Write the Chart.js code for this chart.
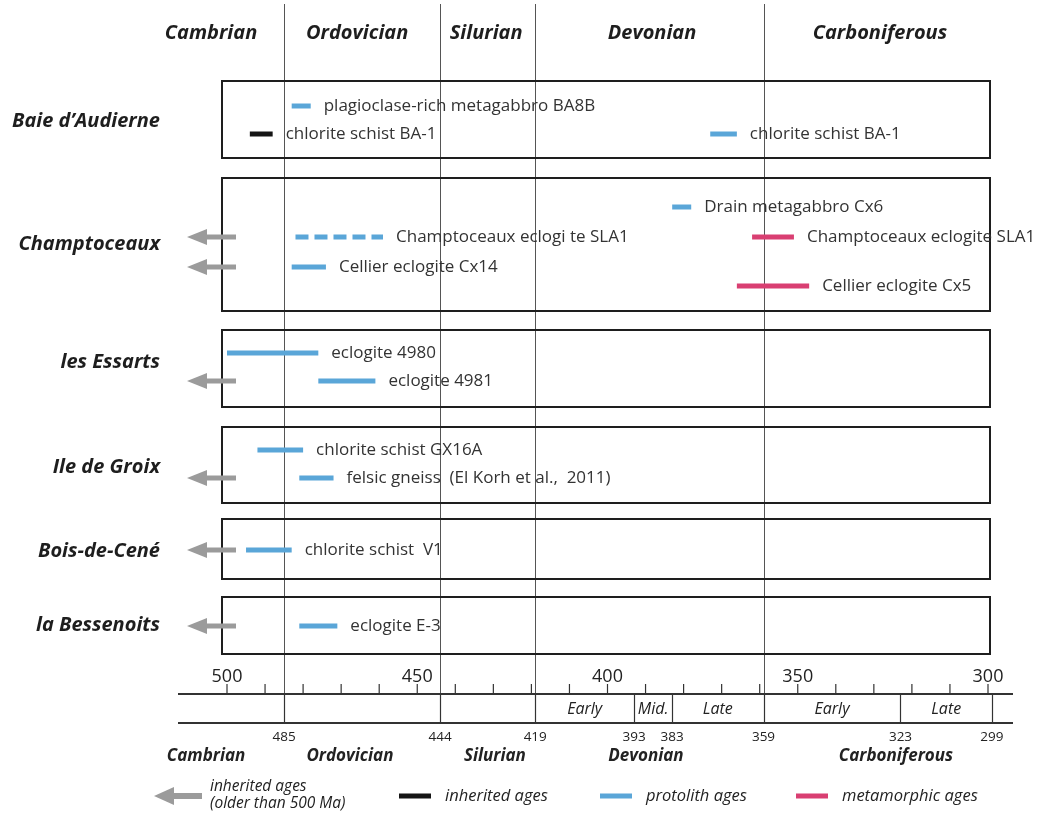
<!DOCTYPE html>
<html>
<head>
<meta charset="utf-8">
<script src="https://cdn.jsdelivr.net/npm/chart.js@4.4.1/dist/chart.umd.min.js"></script>
<style>
  html, body { margin: 0; background: #fff; }
  #wrap { width: 1046px; height: 817px; }
</style>
</head>
<body>
<div id="wrap"><canvas id="chart"></canvas></div>
<script>
// ---- data (ages in Ma) ----
const sites = ["Baie d\u2019Audierne", "Champtoceaux", "les Essarts", "Ile de Groix", "Bois-de-Cen\u00e9", "la Bessenoits"];
const sampleNames = ["plagioclase-rich metagabbro BA8B", "chlorite schist BA-1", "chlorite schist BA-1",
  "Drain metagabbro Cx6", "Champtoceaux eclogi te SLA1", "Champtoceaux eclogite SLA1",
  "Cellier eclogite Cx14", "Cellier eclogite Cx5", "eclogite 4980", "eclogite 4981",
  "chlorite schist GX16A", "felsic gneiss  (El Korh et al.,  2011)", "chlorite schist  V1", "eclogite E-3"];
const sampleSite = [0, 0, 0, 1, 1, 1, 1, 1, 2, 2, 3, 3, 4, 5];
const ageOld   = [483, 494, 373, 383, 482, 362, 483, 366, 500, 476, 492, 481, 495, 481];
const ageYoung = [478, 488, 366, 378, 459, 351, 474, 347, 476, 461, 480, 472, 483, 471];
const ageKind  = ["protolith", "inherited", "protolith", "protolith", "protolith", "metamorphic",
  "protolith", "metamorphic", "protolith", "protolith", "protolith", "protolith", "protolith", "protolith"];
const uncertain = [0, 0, 0, 0, 1, 0, 0, 0, 0, 0, 0, 0, 0, 0];
const olderThan500 = [0, 0, 0, 0, 1, 0, 1, 0, 0, 1, 0, 1, 1, 1];

const periods = ["Cambrian", "Ordovician", "Silurian", "Devonian", "Carboniferous"];
const periodLines = [485, 444, 419, 359];
const stageBounds = [485, 444, 419, 393, 383, 359, 323, 299];
const epochs = ["Early", "Mid.", "Late", "Early", "Late"];
const epochStart = [419, 393, 383, 359, 323];
const epochEnd = [393, 383, 359, 323, 299];
const tickLabels = [500, 450, 400, 350, 300];

// ---- layout (vertical slots, label anchors) ----
const siteTop = [81, 178, 330, 427, 519, 597];
const siteBottom = [158, 311, 407, 503, 579, 654];
const siteLabelY = [121, 244, 362, 467, 551, 625];
const rowY = [106, 134, 134, 207, 237, 237, 267, 286, 353, 381, 450, 478, 550, 626];
const topLabelAge = [504.2, 465.8, 431.9, 388.3, 328.4];
const bottomLabelAge = [505.5, 467.7, 429.6, 389.9, 324.2];

const kindColor = { inherited: "#151515", protolith: "#5aa6d8", metamorphic: "#d93f72" };
const arrowGrey = "#9b9b9b";
const ink = "#1e1e1e";
const font = "'Open Sans', 'Liberation Sans', sans-serif";

const datasets = sampleNames.map((name, i) => ({
  label: name,
  data: [{ x: ageOld[i], y: rowY[i] }, { x: ageYoung[i], y: rowY[i] }],
  borderColor: kindColor[ageKind[i]],
  borderWidth: 5,
  borderDash: uncertain[i] ? [13, 6] : [],
  borderCapStyle: "butt",
  pointRadius: 0,
  fill: false
}));

function arrow(ctx, tipX, tailX, y, head, halfH, shaft) {
  ctx.fillStyle = arrowGrey;
  ctx.fillRect(tipX + head - 1, y - shaft / 2, tailX - tipX - head + 1, shaft);
  ctx.beginPath();
  ctx.moveTo(tipX, y);
  ctx.lineTo(tipX + head, y - halfH);
  ctx.lineTo(tipX + head, y + halfH);
  ctx.closePath();
  ctx.fill();
}

const figure = {
  id: "figure",
  beforeDatasetsDraw(chart) {
    const { ctx, scales: { x, y } } = chart;
    ctx.save();
    // period boundaries through the panels
    ctx.strokeStyle = "#555";
    ctx.lineWidth = 1;
    periodLines.forEach(a => {
      const px = Math.round(x.getPixelForValue(a)) + 0.5;
      ctx.beginPath();
      ctx.moveTo(px, y.getPixelForValue(4));
      ctx.lineTo(px, y.getPixelForValue(694));
      ctx.stroke();
    });
    // locality boxes
    ctx.strokeStyle = ink;
    ctx.lineWidth = 2;
    sites.forEach((s, k) => {
      const l = x.getPixelForValue(500) - 5, r = x.getPixelForValue(300) + 2;
      const t = y.getPixelForValue(siteTop[k]), b = y.getPixelForValue(siteBottom[k]);
      ctx.strokeRect(l, t, r - l, b - t);
    });
    ctx.restore();
  },
  afterDatasetsDraw(chart) {
    const { ctx, scales: { x, y } } = chart;
    ctx.save();
    ctx.textBaseline = "middle";

    // top period names
    ctx.fillStyle = ink;
    ctx.font = "italic bold 20px " + font;
    ctx.textAlign = "center";
    periods.forEach((p, i) => ctx.fillText(p, x.getPixelForValue(topLabelAge[i]), 33));

    // locality names
    ctx.textAlign = "right";
    sites.forEach((s, k) => ctx.fillText(s, 160, y.getPixelForValue(siteLabelY[k])));

    // sample labels
    ctx.textAlign = "left";
    ctx.font = "17px " + font;
    ctx.fillStyle = "#333";
    sampleNames.forEach((n, i) => {
      ctx.fillText(n, x.getPixelForValue(ageYoung[i]) + 13, y.getPixelForValue(rowY[i]));
    });

    // inherited (> 500 Ma) arrows
    const x500 = x.getPixelForValue(500);
    sampleNames.forEach((n, i) => {
      if (olderThan500[i]) arrow(ctx, x500 - 40, x500 + 9, y.getPixelForValue(rowY[i]), 20, 8, 5);
    });

    // time scale
    const ay = 694, by = 723, left = 178, right = 1013;
    ctx.strokeStyle = "#333";
    ctx.lineWidth = 2;
    [ay, by].forEach(yy => {
      ctx.beginPath(); ctx.moveTo(left, yy); ctx.lineTo(right, yy); ctx.stroke();
    });
    ctx.lineWidth = 1.2;
    for (let a = 500; a >= 300; a -= 10) {
      const px = x.getPixelForValue(a);
      ctx.beginPath(); ctx.moveTo(px, ay - 10); ctx.lineTo(px, ay); ctx.stroke();
    }
    stageBounds.forEach(a => {
      const px = Math.round(x.getPixelForValue(a)) + 0.5;
      ctx.beginPath(); ctx.moveTo(px, ay); ctx.lineTo(px, by); ctx.stroke();
    });
    ctx.fillStyle = "#222";
    ctx.textAlign = "center";
    ctx.font = "18px " + font;
    tickLabels.forEach(a => ctx.fillText(String(a), x.getPixelForValue(a), 677));
    ctx.font = "italic 16px " + font;
    epochs.forEach((e, i) => {
      ctx.fillText(e, (x.getPixelForValue(epochStart[i]) + x.getPixelForValue(epochEnd[i])) / 2, 709);
    });
    ctx.font = "13.5px " + font;
    stageBounds.forEach(a => ctx.fillText(String(a), x.getPixelForValue(a), 737));
    ctx.font = "italic bold 17px " + font;
    periods.forEach((p, i) => ctx.fillText(p, x.getPixelForValue(bottomLabelAge[i]), 756));

    // legend
    const ly = 796;
    arrow(ctx, 154, 202, ly, 20, 9, 6);
    ctx.fillStyle = "#222";
    ctx.textAlign = "left";
    ctx.font = "italic 15.5px " + font;
    ctx.fillText("inherited ages", 210, 787);
    ctx.fillText("(older than 500 Ma)", 210, 804);
    ctx.font = "italic 16.5px " + font;
    [["inherited", 399, "inherited ages"], ["protolith", 600, "protolith ages"], ["metamorphic", 796, "metamorphic ages"]]
      .forEach(([k, lx, t]) => {
        ctx.fillStyle = kindColor[k];
        ctx.fillRect(lx, ly - 2.5, 32, 5);
        ctx.fillStyle = "#222";
        ctx.fillText(t, lx + 46, ly);
      });
    ctx.restore();
  }
};

new Chart(document.getElementById("chart"), {
  type: "line",
  data: { datasets },
  options: {
    responsive: true,
    maintainAspectRatio: false,
    animation: false,
    layout: { padding: { left: 227, right: 58, top: 0, bottom: 0 } },
    plugins: { legend: { display: false }, tooltip: { enabled: false } },
    scales: {
      x: { type: "linear", min: 300, max: 500, reverse: true, display: false },
      y: { type: "linear", min: 0, max: 817, reverse: true, display: false }
    }
  },
  plugins: [figure]
});
</script>
</body>
</html>
